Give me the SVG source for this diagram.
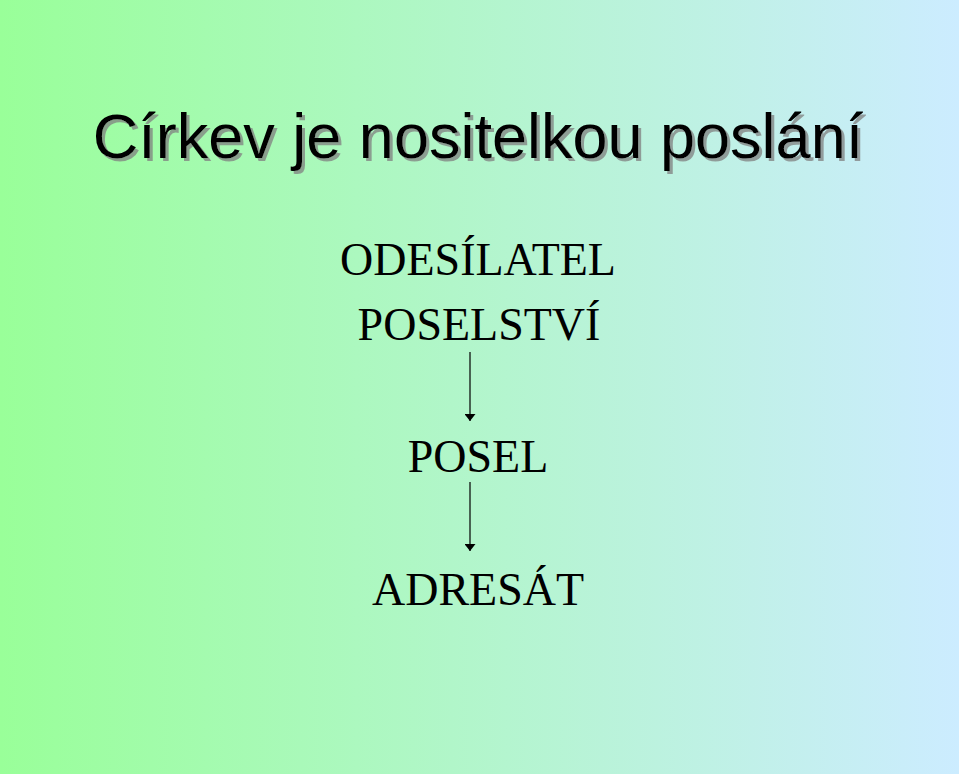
<svg xmlns="http://www.w3.org/2000/svg" width="959" height="774" viewBox="0 0 959 774">
<defs>
<linearGradient id="bg" x1="0" y1="0" x2="1" y2="0">
<stop offset="0" stop-color="#99FF99"/>
<stop offset="1" stop-color="#CCECFF"/>
</linearGradient>
<filter id="shadow" x="-5%" y="-20%" width="110%" height="140%">
<feDropShadow dx="3" dy="3" stdDeviation="0.6" flood-color="#808080" flood-opacity="0.75"/>
</filter>
<marker id="ah" viewBox="0 0 10 10" refX="10" refY="5" markerWidth="7" markerHeight="11" markerUnits="userSpaceOnUse" orient="auto" preserveAspectRatio="none">
<path d="M0,0 L10,5 L0,10 Z" fill="#000"/>
</marker>
<style>
.title{font-family:"Liberation Sans",Arial,sans-serif;font-size:63px;text-anchor:middle;fill:#000}
.lbl{font-family:"Liberation Serif","Times New Roman",serif;font-size:46px;text-anchor:middle;fill:#000}
.conn{stroke:#000;stroke-width:1.2;fill:none;marker-end:url(#ah)}
</style>
</defs>
<rect width="959" height="774" fill="url(#bg)"/>
<g id="title">
<text class="title" x="478" y="158" filter="url(#shadow)">Církev je nositelkou poslání</text>
</g>
<g id="odesilatel"><text class="lbl" x="478" y="275">ODESÍLATEL</text></g>
<g id="poselstvi"><text class="lbl" x="479" y="340">POSELSTVÍ</text></g>
<g id="posel"><text class="lbl" x="478" y="472">POSEL</text></g>
<g id="adresat"><text class="lbl" x="478" y="605">ADRESÁT</text></g>
<g id="connectors">
<line class="conn" x1="470" y1="352" x2="470" y2="421"/>
<line class="conn" x1="470" y1="482" x2="470" y2="551"/>
</g>
</svg>
